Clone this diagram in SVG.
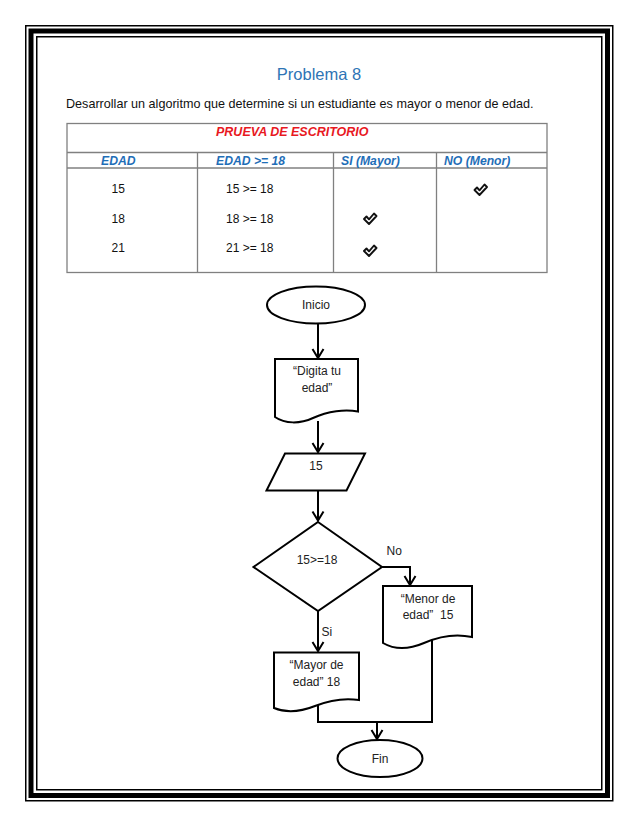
<svg xmlns="http://www.w3.org/2000/svg" width="638" height="826" viewBox="0 0 638 826">
<style>
  .frame { fill: none; stroke: #000; }
  .tbl { fill: none; stroke: #808080; stroke-width: 1.3; }
  .hdr { font-family: "Liberation Sans", Arial, sans-serif; font-size: 12.2px; font-weight: bold; font-style: italic; fill: #1F6EB7; }
  .cell { font-family: "Liberation Sans", Arial, sans-serif; font-size: 12px; fill: #111; }
  .chk { fill: #fff; stroke: #111; stroke-width: 1.9; stroke-linejoin: round; }
  .shape { fill: #fff; stroke: #000; stroke-width: 2; }
  .lbl { font-family: "Liberation Sans", Arial, sans-serif; font-size: 12px; fill: #222; text-anchor: middle; }
  .edge { fill: none; stroke: #000; stroke-width: 2; }
  .elbl { font-family: "Liberation Sans", Arial, sans-serif; font-size: 12px; fill: #222; }
</style>
<defs>
  <marker id="arr" viewBox="-11 -7 13 14" refX="0" refY="0" markerWidth="13" markerHeight="14" markerUnits="userSpaceOnUse" orient="auto">
    <path d="M-9,-5.5 L0,0 L-9,5.5" fill="none" stroke="#000" stroke-width="2"/>
  </marker>
  <path id="check" d="M-6,0 L-3.5,-2.5 L-1,0.3 L4,-5.5 L6.5,-3 L-1,5 Z"/>
</defs>
<rect width="638" height="826" fill="#fff"/>
<g id="frame">
  <rect class="frame" x="25.75" y="25.75" width="587" height="775" stroke-width="1.5"/>
  <rect class="frame" x="31" y="31" width="576.5" height="764.5" stroke-width="5"/>
  <rect class="frame" x="36.75" y="36.75" width="565" height="753" stroke-width="1.5" stroke="#333"/>
</g>
<g id="title">
  <text x="319" y="80" font-family="Liberation Sans, Arial, sans-serif" font-size="16.5" fill="#2E74B5" text-anchor="middle">Problema 8</text>
  <text x="66" y="108" font-family="Liberation Sans, Arial, sans-serif" font-size="12.6" fill="#111">Desarrollar un algoritmo que determine si un estudiante es mayor o menor de edad.</text>
</g>
<g id="table">
  <rect class="tbl" x="67" y="123.5" width="480" height="149"/>
  <line class="tbl" x1="67" y1="152.5" x2="547" y2="152.5" stroke-width="1.6"/>
  <line class="tbl" x1="67" y1="168" x2="547" y2="168" stroke-width="1.6"/>
  <line class="tbl" x1="197.5" y1="152.5" x2="197.5" y2="272.5"/>
  <line class="tbl" x1="333.5" y1="152.5" x2="333.5" y2="272.5"/>
  <line class="tbl" x1="436.5" y1="152.5" x2="436.5" y2="272.5"/>
  <text x="216" y="136" font-family="Liberation Sans, Arial, sans-serif" font-size="12.5" font-weight="bold" font-style="italic" fill="#E8191F">PRUEVA DE ESCRITORIO</text>
  <text class="hdr" x="101" y="165">EDAD</text>
  <text class="hdr" x="216" y="165">EDAD &gt;= 18</text>
  <text class="hdr" x="341" y="165">SI (Mayor)</text>
  <text class="hdr" x="444" y="165">NO (Menor)</text>
  <text class="cell" x="111.5" y="193">15</text>
  <text class="cell" x="111.5" y="222.5">18</text>
  <text class="cell" x="111.5" y="251.5">21</text>
  <text class="cell" x="226" y="193">15 &gt;= 18</text>
  <text class="cell" x="226" y="222.5">18 &gt;= 18</text>
  <text class="cell" x="226" y="251.5">21 &gt;= 18</text>
  <use href="#check" class="chk" x="480.5" y="190"/>
  <use href="#check" class="chk" x="370" y="219"/>
  <use href="#check" class="chk" x="370" y="251"/>
</g>
<g id="connectors">
  <path class="edge" d="M318,323.5 V358" marker-end="url(#arr)"/>
  <path class="edge" d="M318,421 V452" marker-end="url(#arr)"/>
  <path class="edge" d="M318,491 V520.5" marker-end="url(#arr)"/>
  <path class="edge" d="M382,567 H410 V585" marker-end="url(#arr)"/>
  <path class="edge" d="M318,611 V651" marker-end="url(#arr)"/>
  <path class="edge" d="M318,705 V722 H432 V640"/>
  <path class="edge" d="M377,722 V739" marker-end="url(#arr)"/>
  <text class="elbl" x="386.5" y="555">No</text>
  <text class="elbl" x="321.5" y="636">Si</text>
</g>
<g id="inicio">
  <ellipse class="shape" cx="316" cy="305" rx="49" ry="18.5"/>
  <text class="lbl" x="316" y="309">Inicio</text>
</g>
<g id="digita">
  <path class="shape" d="M275,359 H358 V411.5 C345,409 328,411 313,418 C300,424 285,424 275,417 Z"/>
  <text class="lbl" x="317" y="375">“Digita tu</text>
  <text class="lbl" x="317" y="391.5">edad”</text>
</g>
<g id="entrada">
  <path class="shape" d="M285,453.5 H365 L346.5,490.5 H266.5 Z"/>
  <text class="lbl" x="316" y="470">15</text>
</g>
<g id="decision">
  <path class="shape" d="M318,522 L382,567 L318,611 L253.5,567 Z"/>
  <text class="lbl" x="317" y="564">15&gt;=18</text>
</g>
<g id="menor">
  <path class="shape" d="M383,586 H472 V637 C458,634 440,636 424,643 C410,649 395,650 383,643 Z"/>
  <text class="lbl" x="428" y="602.5">“Menor de</text>
  <text class="lbl" x="428" y="619" xml:space="preserve">edad”  15</text>
</g>
<g id="mayor">
  <path class="shape" d="M274,652.5 H359 V700 C346,698 330,700 315,706 C300,712 286,713 274,708 Z"/>
  <text class="lbl" x="316.5" y="668.5">“Mayor de</text>
  <text class="lbl" x="316.5" y="685.5">edad” 18</text>
</g>
<g id="fin">
  <ellipse class="shape" cx="380" cy="758.5" rx="42.5" ry="18.5"/>
  <text class="lbl" x="380" y="762.5">Fin</text>
</g>
</svg>
